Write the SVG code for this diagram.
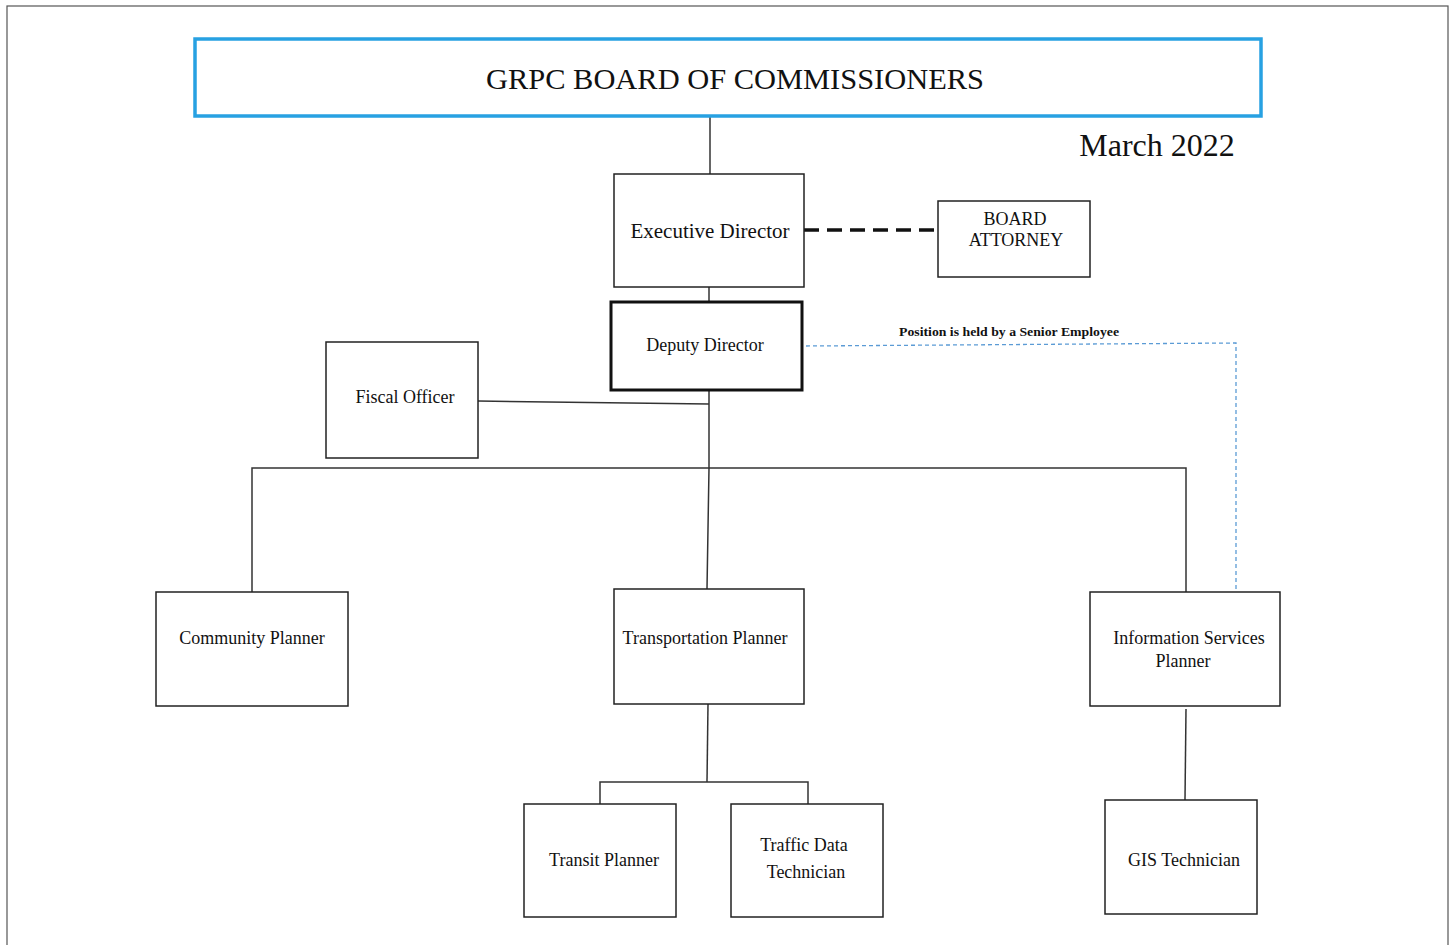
<svg xmlns="http://www.w3.org/2000/svg" width="1452" height="945" viewBox="0 0 1452 945">
<style>
text{font-family:"Liberation Serif","Times New Roman",serif;fill:#111;text-anchor:middle}
.box{fill:#fff;stroke:#222;stroke-width:1.5}
.ln{stroke:#333;stroke-width:1.5;fill:none}
.f18{font-size:18px}
</style>
<rect x="7" y="6" width="1441" height="960" fill="#fff" stroke="#555" stroke-width="1.2"/>
<g id="connectors">
<line class="ln" x1="710" y1="116" x2="710" y2="174"/>
<line class="ln" x1="709" y1="287" x2="709" y2="302" stroke-width="2.5"/>
<line x1="804" y1="230" x2="938" y2="230" stroke="#111" stroke-width="3.5" stroke-dasharray="15 8"/>
<polyline class="ln" points="709,390 709,468 707,589"/>
<line class="ln" x1="478" y1="401" x2="709" y2="404"/>
<polyline class="ln" points="252,592 252,468 1186,468 1186,592"/>
<polyline class="ln" points="708,704 707,782"/>
<polyline class="ln" points="600,804 600,782 808,782 808,804"/>
<line class="ln" x1="1186" y1="709" x2="1185" y2="800"/>
<polyline points="806,346 1236,343 1236,589" fill="none" stroke="#5b9bd5" stroke-width="1.3" stroke-dasharray="4 3"/>
<text x="1009" y="336" font-size="13" font-weight="bold" textLength="220" lengthAdjust="spacingAndGlyphs">Position is held by a Senior Employee</text>
</g>
<g id="board">
<rect x="195" y="39" width="1066" height="77" fill="#fff" stroke="#27a1e2" stroke-width="3.5"/>
<text x="735" y="89" font-size="29" textLength="498" lengthAdjust="spacingAndGlyphs">GRPC BOARD OF COMMISSIONERS</text>
</g>
<text x="1157" y="156" font-size="32">March 2022</text>
<g id="exec">
<rect class="box" x="614" y="174" width="190" height="113"/>
<text x="710" y="238" font-size="21">Executive Director</text>
</g>
<g id="attorney">
<rect class="box" x="938" y="201" width="152" height="76"/>
<text class="f18" x="1015" y="225">BOARD</text>
<text class="f18" x="1016" y="246">ATTORNEY</text>
</g>
<g id="deputy">
<rect x="611" y="302" width="191" height="88" fill="#fff" stroke="#111" stroke-width="3"/>
<text class="f18" x="705" y="351">Deputy Director</text>
</g>
<g id="fiscal">
<rect class="box" x="326" y="342" width="152" height="116"/>
<text class="f18" x="405" y="403">Fiscal Officer</text>
</g>
<g id="community">
<rect class="box" x="156" y="592" width="192" height="114"/>
<text class="f18" x="252" y="644">Community Planner</text>
</g>
<g id="transportation">
<rect class="box" x="614" y="589" width="190" height="115"/>
<text class="f18" x="705" y="644">Transportation Planner</text>
</g>
<g id="infoservices">
<rect class="box" x="1090" y="592" width="190" height="114"/>
<text class="f18" x="1189" y="644">Information Services</text>
<text class="f18" x="1183" y="667">Planner</text>
</g>
<g id="transit">
<rect class="box" x="524" y="804" width="152" height="113"/>
<text class="f18" x="604" y="866">Transit Planner</text>
</g>
<g id="traffic">
<rect class="box" x="731" y="804" width="152" height="113"/>
<text class="f18" x="804" y="851">Traffic Data</text>
<text class="f18" x="806" y="878">Technician</text>
</g>
<g id="gis">
<rect class="box" x="1105" y="800" width="152" height="114"/>
<text class="f18" x="1184" y="866">GIS Technician</text>
</g>
</svg>
